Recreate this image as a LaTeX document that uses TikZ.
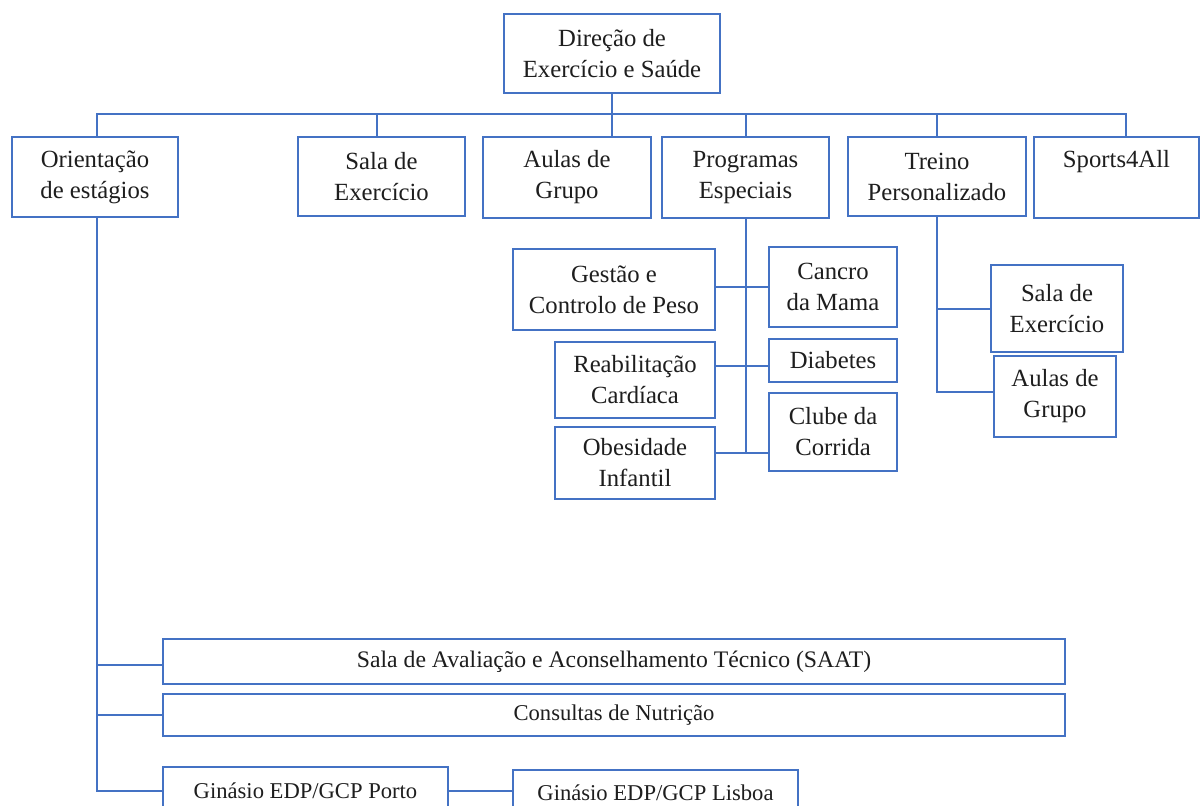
\documentclass[tikz,border=0pt]{standalone}
\usepackage{fontspec}
\setmainfont{Liberation Serif}
\definecolor{lnblue}{HTML}{4472C4}
\definecolor{txt}{HTML}{1E1E1E}
\tikzset{
  orgbox/.style={draw=lnblue, line width=1pt, fill=white, inner sep=0pt, outer sep=0pt,
    align=center, text=txt, font=\fontsize{12.35}{15.5}\selectfont},
  conn/.style={draw=lnblue, line width=1pt},
  smalltxt/.style={font=\fontsize{11.85}{14}\selectfont},
}
\newcommand\orgnode[7][]{\node[orgbox,#1, minimum width={(#5-#3)*0.5pt}, minimum height={(#6-#4)*0.5pt}] (#2) at ({(#3+#5)/2},{(#4+#6)/2}) {#7};}
\begin{document}
\begin{tikzpicture}[x=0.5pt,y=-0.5pt]
\fill[white] (0,0) rectangle (1200,805);
\path[use as bounding box] (0,0) rectangle (1200,805);
\clip (0,0) rectangle (1200,805);
% top level
\orgnode{top}{504}{14}{720}{93}{Direção de\\Exercício e Saúde}
% second row
\orgnode{orient}{12}{137}{178}{217}{Orientação\\de estágios}
\orgnode{sala}{298}{137}{465}{216}{Sala de\\Exercício}
\orgnode{aulas}{483}{137}{651}{218}{Aulas de\\Grupo}
\orgnode{prog}{662}{137}{829}{218}{Programas\\Especiais}
\orgnode{treino}{848}{137}{1026}{216}{Treino\\Personalizado}
\orgnode{sports}{1034}{137}{1199}{218}{Sports4All\\\phantom{Sp}}
% programas especiais
\orgnode{gest}{513}{249}{715}{330}{Gestão e\\Controlo de Peso}
\orgnode{canc}{769}{247}{897}{327}{Cancro\\da Mama}
\orgnode{reab}{555}{342}{715}{418}{Reabilitação\\Cardíaca}
\orgnode{diab}{769}{339}{897}{382}{Diabetes}
\orgnode{obes}{555}{427}{715}{499}{Obesidade\\Infantil}
\orgnode{clube}{769}{393}{897}{471}{Clube da\\Corrida}
% treino personalizado
\orgnode{tsala}{991}{265}{1123}{352}{Sala de\\Exercício}
\orgnode{taulas}{994}{356}{1116}{437}{Aulas de\\Grupo}
% orientação
\orgnode[smalltxt]{saat}{163}{639}{1065}{684}{Sala de Avaliação e Aconselhamento Técnico (SAAT)}
\orgnode[font=\fontsize{11.3}{14}\selectfont]{cons}{163}{694}{1065}{736}{Consultas de Nutrição}
\orgnode[font=\fontsize{11.3}{14}\selectfont]{porto}{163}{767}{448}{815}{Ginásio EDP/GCP Porto}
\orgnode[font=\fontsize{11.3}{14}\selectfont]{lisboa}{513}{770}{798}{816}{Ginásio EDP/GCP Lisboa}
% connectors: main bus
\coordinate (busL) at (97,114);
\coordinate (busR) at (1126,114);
\coordinate (salaD) at (377,114);
\draw[conn] (busL |- orient.north) -- (busL) -- (busR) -- (busR |- sports.north);
\draw[conn] (salaD |- sala.north) -- (salaD);
\draw[conn] (top.south) -- (top.south |- aulas.north);
\draw[conn] (prog.north) -- (prog.north |- busR);
\draw[conn] (treino.north) -- (treino.north |- busR);
% programas especiais branch
\coordinate (pa) at (745,287);
\coordinate (pb) at (745,366);
\coordinate (pc) at (745,453);
\draw[conn] (prog.south) -- (prog.south |- pc);
\draw[conn] (gest.east |- pa) -- (canc.west |- pa);
\draw[conn] (reab.east |- pb) -- (diab.west |- pb);
\draw[conn] (obes.east |- pc) -- (clube.west |- pc);
% treino branch
\coordinate (tb) at (936,392);
\draw[conn] (treino.south) |- (tsala.west);
\draw[conn] (treino.south) |- (taulas.west |- tb);
% orientação branch
\coordinate (oa) at (97,665);
\draw[conn] (busL |- orient.south) |- (porto.west);
\draw[conn] (oa) -- (saat.west |- oa);
\draw[conn] (busL |- cons.west) -- (cons.west);
\draw[conn] (porto.east) -- (porto.east -| lisboa.west);
\end{tikzpicture}
\end{document}
